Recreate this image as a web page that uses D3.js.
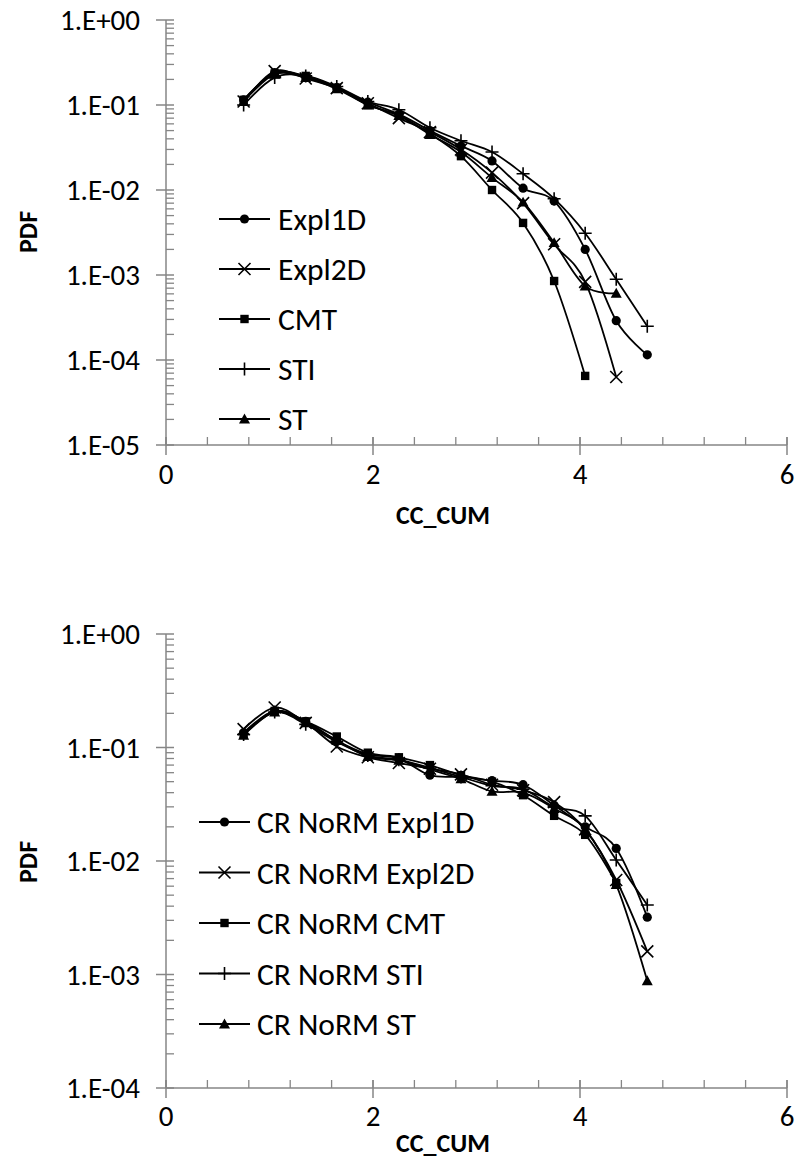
<!DOCTYPE html>
<html><head><meta charset="utf-8">
<script src="https://cdn.jsdelivr.net/npm/d3@7"></script>
<style>
html,body{margin:0;padding:0;background:#fff;}
text{font-family:Carlito,Calibri,Lato,sans-serif;fill:#000;}
</style></head>
<body><svg id="c" width="798" height="1159"></svg>
<script>
// ---------- DATA ----------
const xValues = [0.75,1.05,1.35,1.65,1.95,2.25,2.55,2.85,3.15,3.45,3.75,4.05,4.35,4.65];

// Top chart
const topNames = ["Expl1D","Expl2D","CMT","STI","ST"];
const topExpl1D = [0.115,0.24,0.215,0.16,0.108,0.078,0.050,0.033,0.022,0.0105,0.0074,0.0020,0.00029,0.000115];
const topExpl2D = [0.11,0.25,0.205,0.158,0.105,0.070,0.048,0.030,0.016,0.0070,0.0023,0.00083,0.000063];
const topCMT    = [0.115,0.235,0.22,0.16,0.10,0.075,0.046,0.025,0.010,0.0041,0.00085,0.000065];
const topSTI    = [0.10,0.21,0.22,0.165,0.11,0.088,0.054,0.038,0.028,0.0155,0.0079,0.0031,0.00089,0.00025];
const topST     = [0.11,0.23,0.21,0.155,0.10,0.075,0.045,0.028,0.014,0.0072,0.0024,0.00074,0.00061];

// Bottom chart
const botNames = ["CR NoRM Expl1D","CR NoRM Expl2D","CR NoRM CMT","CR NoRM STI","CR NoRM ST"];
const botExpl1D = [0.135,0.21,0.17,0.115,0.087,0.080,0.057,0.055,0.051,0.047,0.031,0.020,0.0129,0.0032];
const botExpl2D = [0.145,0.225,0.165,0.102,0.082,0.073,0.065,0.058,0.047,0.042,0.033,0.019,0.0068,0.0016];
const botCMT    = [0.13,0.21,0.17,0.125,0.090,0.082,0.070,0.057,0.050,0.038,0.025,0.017,0.0064];
const botSTI    = [0.13,0.205,0.16,0.112,0.085,0.078,0.066,0.055,0.046,0.043,0.030,0.025,0.0102,0.0041];
const botST     = [0.128,0.205,0.165,0.115,0.083,0.077,0.064,0.053,0.041,0.040,0.029,0.019,0.0062,0.00088];

const markerTypes = ["circle","x","square","plus","triangle"];

const xTickLabels = ["0","2","4","6"];
const topYTickLabels = ["1.E+00","1.E-01","1.E-02","1.E-03","1.E-04","1.E-05"];
const botYTickLabels = ["1.E+00","1.E-01","1.E-02","1.E-03","1.E-04"];
const xTitle = "CC_CUM";
const yTitle = "PDF";

// ---------- DRAW ----------
const svg = d3.select("#c");
const AXC = "#868686";
const FONT = 29, LFONT = 31.5, TFONT = 26;

function drawMarker(g, type, x, y){
  if(type==="circle"){
    g.append("circle").attr("cx",x).attr("cy",y).attr("r",4.6).attr("fill","#000");
  } else if(type==="square"){
    g.append("rect").attr("x",x-4.2).attr("y",y-4.2).attr("width",8.4).attr("height",8.4).attr("fill","#000");
  } else if(type==="triangle"){
    const s=5.5;
    g.append("path").attr("d",`M${x},${y-s}L${x+s},${y+s*0.8}L${x-s},${y+s*0.8}Z`).attr("fill","#000");
  } else if(type==="x"){
    const s=6;
    g.append("path").attr("d",`M${x-s},${y-s}L${x+s},${y+s}M${x-s},${y+s}L${x+s},${y-s}`).attr("stroke","#000").attr("stroke-width",1.6);
  } else if(type==="plus"){
    const s=6.5;
    g.append("path").attr("d",`M${x-s},${y}L${x+s},${y}M${x},${y-s}L${x},${y+s}`).attr("stroke","#000").attr("stroke-width",1.6);
  }
}

function chart(cfg){
  const {left,right,top,bottom,yMinExp,series,names,yLabels,xLabelY,xTitleX,xTitleY,yTitleY,legend} = cfg;
  const g = svg.append("g");
  const x = d3.scaleLinear().domain([0,6]).range([left,right]);
  const y = d3.scaleLog().domain([Math.pow(10,yMinExp),1]).range([bottom,top]);

  for(let e=yMinExp; e<0; e++){
    for(let m=2;m<=9;m++){
      const yy = y(m*Math.pow(10,e));
      g.append("line").attr("x1",left).attr("x2",left+8).attr("y1",yy).attr("y2",yy).attr("stroke",AXC).attr("stroke-width",1.3);
    }
  }
  yLabels.forEach((lab,i)=>{
    const yy = y(Math.pow(10,-i));
    g.append("line").attr("x1",left-10).attr("x2",left+8).attr("y1",yy).attr("y2",yy).attr("stroke",AXC).attr("stroke-width",1.5);
    g.append("text").attr("x",left-26).attr("y",yy).attr("text-anchor","end").attr("dominant-baseline","central").attr("font-size",FONT).text(lab);
  });
  d3.range(0,6.0001,0.4).forEach(v=>{
    const xx=x(v);
    g.append("line").attr("x1",xx).attr("x2",xx).attr("y1",bottom).attr("y2",bottom-8).attr("stroke",AXC).attr("stroke-width",1.3);
  });
  xTickLabels.forEach(lab=>{
    const xx=x(+lab);
    g.append("line").attr("x1",xx).attr("x2",xx).attr("y1",bottom+10).attr("y2",bottom-8).attr("stroke",AXC).attr("stroke-width",1.5);
    g.append("text").attr("x",xx).attr("y",xLabelY).attr("text-anchor","middle").attr("dominant-baseline","central").attr("font-size",FONT).text(lab);
  });
  g.append("line").attr("x1",left).attr("x2",left).attr("y1",top).attr("y2",bottom).attr("stroke",AXC).attr("stroke-width",1.5);
  g.append("line").attr("x1",left).attr("x2",right).attr("y1",bottom).attr("y2",bottom).attr("stroke",AXC).attr("stroke-width",1.5);

  g.append("text").attr("x",xTitleX).attr("y",xTitleY).attr("text-anchor","middle").attr("dominant-baseline","central").attr("font-size",TFONT).attr("font-weight","bold").text(xTitle);
  g.append("text").attr("transform",`translate(28,${yTitleY}) rotate(-90)`).attr("text-anchor","middle").attr("dominant-baseline","central").attr("font-size",TFONT).attr("font-weight","bold").text(yTitle);

  const line = d3.line().x(d=>x(d[0])).y(d=>y(d[1])).curve(d3.curveCatmullRom.alpha(0));
  series.forEach((vals)=>{
    const pts = vals.map((v,i)=>[xValues[i],v]);
    g.append("path").attr("d",line(pts)).attr("fill","none").attr("stroke","#000").attr("stroke-width",1.8);
  });
  series.forEach((vals,si)=>{
    vals.forEach((v,i)=>drawMarker(g,markerTypes[si],x(xValues[i]),y(v)));
  });

  names.forEach((n,i)=>{
    const ly = legend.y0 + legend.dy*i;
    g.append("line").attr("x1",legend.x1).attr("x2",legend.x2).attr("y1",ly).attr("y2",ly).attr("stroke","#000").attr("stroke-width",1.8);
    drawMarker(g,markerTypes[i],(legend.x1+legend.x2)/2,ly);
    g.append("text").attr("x",legend.tx).attr("y",ly).attr("dominant-baseline","central").attr("font-size",LFONT).text(n);
  });
}

chart({left:166,right:787,top:20,bottom:445,yMinExp:-5,
  series:[topExpl1D,topExpl2D,topCMT,topSTI,topST],names:topNames,yLabels:topYTickLabels,
  xLabelY:474,xTitleX:443,xTitleY:515,yTitleY:232,
  legend:{x1:219,x2:270,tx:278,y0:219,dy:50}});

chart({left:166,right:787,top:634,bottom:1088,yMinExp:-4,
  series:[botExpl1D,botExpl2D,botCMT,botSTI,botST],names:botNames,yLabels:botYTickLabels,
  xLabelY:1116,xTitleX:443,xTitleY:1143,yTitleY:862,
  legend:{x1:199,x2:250,tx:257,y0:822,dy:50.5}});
</script></body></html>
